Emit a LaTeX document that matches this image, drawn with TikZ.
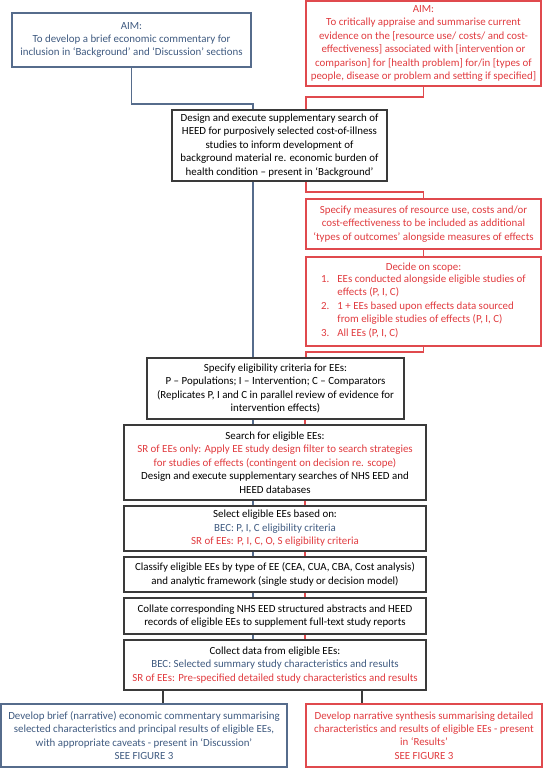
\documentclass[tikz,border=0pt]{standalone}
\usepackage{fontspec}
\setmainfont{Carlito}
\definecolor{bluetxt}{HTML}{3F5A80}
\definecolor{blueln}{HTML}{566C8C}
\definecolor{redtxt}{HTML}{E03A3E}
\definecolor{redln}{HTML}{E04A4E}
\definecolor{darkln}{HTML}{3A3A3A}
\begin{document}
\begin{tikzpicture}[x=1pt,y=-1pt,
  box/.style={draw, line width=1.1pt, inner sep=0pt, align=center, font=\fontsize{10.9}{13.4}\selectfont},
  bluebox/.style={box, draw=blueln, text=bluetxt},
  redbox/.style={box, draw=redln, text=redtxt},
  blackbox/.style={box, draw=darkln, text=black},
  bline/.style={draw=blueln, line width=1.1pt},
  rline/.style={draw=redln, line width=1.1pt},
  kline/.style={draw=darkln, line width=1.1pt}]
\useasboundingbox (0,0) rectangle (545,768);
\node[bluebox, minimum width=239pt, minimum height=54pt] (aimL) at (131.5,40) {AIM:\\To develop a brief economic commentary for\\inclusion in ‘Background’ and ‘Discussion’ sections};
\node[redbox, minimum width=235pt, minimum height=85pt] (aimR) at (423.5,43.5) {AIM:\\To critically appraise and summarise current\\evidence on the [resource use/ costs/ and cost-\\effectiveness] associated with [intervention or\\comparison] for [health problem] for/in [types of\\people, disease or problem and setting if specified]};
\node[blackbox, minimum width=215pt, minimum height=71pt] (heed) at (279.5,145.5) {Design and execute supplementary search of\\HEED for purposively selected cost-of-illness\\studies to inform development of\\background material re. economic burden of\\health condition – present in ‘Background’};
\node[redbox, minimum width=235pt, minimum height=50pt] (meas) at (423.5,224) {Specify measures of resource use, costs and/or\\cost-effectiveness to be included as additional\\‘types of outcomes’ alongside measures of effects};
\node[redbox, minimum width=235pt, minimum height=89pt] (scope) at (423.5,301.5) {Decide on scope:\\[0pt]\begin{tabular}{@{}l@{\hspace{8pt}}l@{}}
1. & EEs conducted alongside eligible studies of\\
   & effects (P, I, C)\\
2. & 1 + EEs based upon effects data sourced\\
   & from eligible studies of effects (P, I, C)\\
3. & All EEs (P, I, C)
\end{tabular}};
\node[blackbox, minimum width=257pt, minimum height=61pt] (elig) at (275.5,388.5) {Specify eligibility criteria for EEs:\\P – Populations; I – Intervention; C – Comparators\\(Replicates P, I and C in parallel review of evidence for\\intervention effects)};
\node[blackbox, minimum width=302pt, minimum height=75pt] (search) at (275,462.5) {Search for eligible EEs:\\{\color{redtxt}SR of EEs only: Apply EE study design filter to search strategies}\\{\color{redtxt}for studies of effects (contingent on decision re. scope)}\\Design and execute supplementary searches of NHS EED and\\HEED databases};
\node[blackbox, minimum width=302pt, minimum height=45pt] (select) at (275,528.5) {Select eligible EEs based on:\\{\color{bluetxt}BEC: P, I, C eligibility criteria}\\{\color{redtxt}SR of EEs: P, I, C, O, S eligibility criteria}};
\node[blackbox, minimum width=302pt, minimum height=35pt] (classify) at (275,574.5) {Classify eligible EEs by type of EE (CEA, CUA, CBA, Cost analysis)\\and analytic framework (single study or decision model)};
\node[blackbox, minimum width=302pt, minimum height=36pt] (collate) at (275,616) {Collate corresponding NHS EED structured abstracts and HEED\\records of eligible EEs to supplement full-text study reports};
\node[blackbox, minimum width=302pt, minimum height=50pt] (collect) at (275,665) {Collect data from eligible EEs:\\{\color{bluetxt}BEC: Selected summary study characteristics and results}\\{\color{redtxt}SR of EEs: Pre-specified detailed study characteristics and results}};
\node[bluebox, minimum width=286pt, minimum height=63pt] (botL) at (144,735.5) {Develop brief (narrative) economic commentary summarising\\selected characteristics and principal results of eligible EEs,\\with appropriate caveats - present in ‘Discussion’\\SEE FIGURE 3};
\node[redbox, minimum width=236pt, minimum height=63pt] (botR) at (424,735.5) {Develop narrative synthesis summarising detailed\\characteristics and results of eligible EEs - present\\in ‘Results’\\SEE FIGURE 3};
% junction coordinates
\coordinate (bj1) at (253,104);
\coordinate (rj1) at (306,97);
\coordinate (rj2) at (306,192);
\coordinate (rj3) at (306,352);
\coordinate (bx) at (253,0);
\coordinate (rx) at (305,0);
\coordinate (kl) at (163,0);
\coordinate (kr) at (362,0);
% blue path
\draw[bline] (aimL.south) -- (aimL.south |- bj1) -- (bj1) -- (heed.north -| bj1);
\draw[bline] (heed.south -| bx) -- (elig.north -| bx);
% red path
\draw[rline] (aimR.south) -- (aimR.south |- rj1) -- (rj1) -- (heed.north -| rj1);
\draw[rline] (heed.south -| rj2) -- (rj2) -- (meas.north |- rj2) -- (meas.north);
\draw[rline] (meas.south) -- (scope.north);
\draw[rline] (scope.south) -- (scope.south |- rj3) -- (rj3) -- (elig.north -| rj3);
% parallel lines
\foreach \a/\b in {elig/search, search/select, select/classify, classify/collate, collate/collect}{
  \draw[bline] (\a.south -| bx) -- (\b.north -| bx);
  \draw[rline] (\a.south -| rx) -- (\b.north -| rx);
}
\draw[kline] (collect.south -| kl) -- (botL.north -| kl);
\draw[kline] (collect.south -| kr) -- (botR.north -| kr);
\end{tikzpicture}
\end{document}
